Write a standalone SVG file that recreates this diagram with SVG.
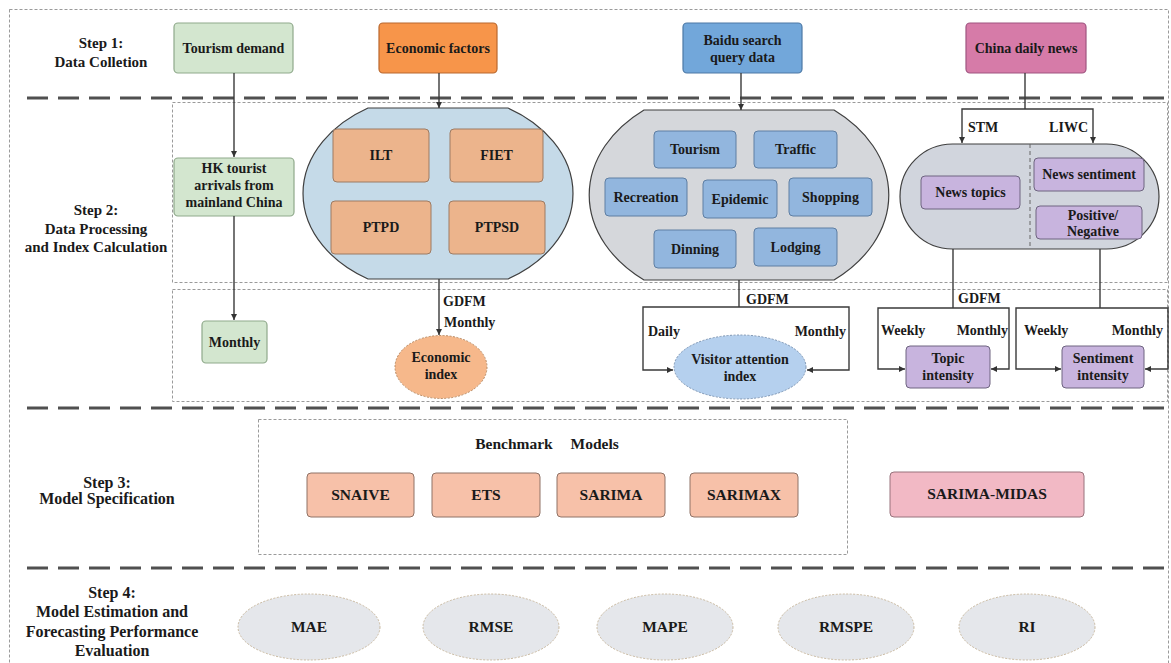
<svg xmlns="http://www.w3.org/2000/svg" width="1171" height="663" viewBox="0 0 1171 663">
<defs>
<marker id="ah" viewBox="0 0 10 10" refX="10" refY="5" markerWidth="6" markerHeight="6" markerUnits="userSpaceOnUse" orient="auto">
<path d="M0,0 L10,5 L0,10 z" fill="#333"/>
</marker>
<style>
text{font-family:'Liberation Serif','DejaVu Serif',serif;font-weight:bold;fill:#1a1a1a;text-anchor:middle}
.step{font-size:15px}
.step2{font-size:16px}
.lbl{font-size:14px}
.sm{font-size:14px}
.big{font-size:15.5px}
.cl{font-size:14px;text-anchor:start}
.cr{font-size:14px;text-anchor:end}
.thick{stroke:#505050;stroke-width:3;stroke-dasharray:21 10;fill:none}
.dot{stroke:#9a9a9a;stroke-width:1;stroke-dasharray:3 2;fill:none}
.conn path{fill:none;stroke:#3a3a3a;stroke-width:1.4}
.green{fill:#d3e6cf;stroke:#8fa98b;stroke-width:1.2}
.peach{fill:#ecb48c;stroke:#9d7b63;stroke-width:1}
.sblue{fill:#92b6de;stroke:#5e7ea3;stroke-width:1}
.lav{fill:#c8b4de;stroke:#6e6480;stroke-width:1}
.model{fill:#f7c1a9;stroke:#8f7266;stroke-width:1}
.metric{fill:#e5e7eb;stroke:#c9b9a0;stroke-width:1;stroke-dasharray:2 1.5}
</style>
</defs>
<rect width="1171" height="663" fill="#ffffff"/>

<!-- frame and section separators -->
<g id="frame">
<rect x="9.5" y="9.5" width="1159" height="670" class="dot"/>
<line x1="27" y1="98" x2="1168" y2="98" class="thick"/>
<line x1="27" y1="408" x2="1168" y2="408" class="thick"/>
<line x1="27" y1="568" x2="1168" y2="568" class="thick"/>
<rect x="172.5" y="102.5" width="995" height="180" class="dot"/>
<rect x="172.5" y="289.5" width="995" height="112" class="dot"/>
<rect x="258.5" y="419.5" width="589" height="135" class="dot" stroke="#777"/>
</g>

<!-- step labels -->
<g id="step-labels">
<text class="step" x="101" y="48">Step 1:</text>
<text class="step" x="101" y="67">Data Colletion</text>
<text class="step" x="96" y="215">Step 2:</text>
<text class="step" x="96" y="234">Data Processing</text>
<text class="step" x="96" y="252">and Index Calculation</text>
<text class="step2" x="107" y="488">Step 3:</text>
<text class="step2" x="107" y="504">Model Specification</text>
<text class="step2" x="112" y="598">Step 4:</text>
<text class="step2" x="112" y="617">Model Estimation and</text>
<text class="step2" x="112" y="637">Forecasting Performance</text>
<text class="step2" x="112" y="656">Evaluation</text>
</g>

<!-- step 1 nodes -->
<g id="tourism-demand">
<rect x="174" y="23" width="119" height="50" rx="4" class="green"/>
<text class="lbl" x="233.5" y="53">Tourism demand</text>
</g>
<g id="economic-factors">
<rect x="379" y="23" width="118" height="50" rx="4" fill="#f7954a" stroke="#b9682e" stroke-width="1.2"/>
<text class="lbl" x="438" y="53">Economic factors</text>
</g>
<g id="baidu">
<rect x="683" y="23" width="119" height="50" rx="4" fill="#72a7da" stroke="#4d79a6" stroke-width="1.2"/>
<text class="lbl" x="742.5" y="45">Baidu search</text>
<text class="lbl" x="742.5" y="62">query data</text>
</g>
<g id="china-daily-news">
<rect x="966" y="23" width="120" height="50" rx="4" fill="#d67ba8" stroke="#9f5580" stroke-width="1.2"/>
<text class="lbl" x="1026" y="53">China daily news</text>
</g>

<!-- step 2 nodes -->
<g id="hk-arrivals">
<rect x="174" y="158" width="120" height="58" rx="4" class="green"/>
<text class="lbl" x="234" y="173">HK tourist</text>
<text class="lbl" x="234" y="190">arrivals from</text>
<text class="lbl" x="234" y="207">mainland China</text>
</g>
<g id="monthly-demand">
<rect x="202" y="321" width="65" height="42" rx="4" class="green"/>
<text class="lbl" x="234.5" y="347">Monthly</text>
</g>

<g id="economic-group">
<path d="M368,108 H508 A135,100 0 0 1 508,279 H368 A135,100 0 0 1 368,108 Z" fill="#c5dae8" stroke="#3f3f3f" stroke-width="1.2"/>
<rect x="333" y="129" width="96" height="53" rx="4" class="peach"/>
<text class="sm" x="381" y="160">ILT</text>
<rect x="450" y="129" width="93" height="53" rx="4" class="peach"/>
<text class="sm" x="496.5" y="160">FIET</text>
<rect x="331" y="201" width="100" height="53" rx="4" class="peach"/>
<text class="sm" x="381" y="232">PTPD</text>
<rect x="449" y="201" width="96" height="53" rx="4" class="peach"/>
<text class="sm" x="497" y="232">PTPSD</text>
</g>

<g id="economic-index">
<ellipse cx="441" cy="367" rx="46" ry="31.5" fill="#f6b88b" stroke="#b98a62" stroke-width="1" stroke-dasharray="2 1.5"/>
<text class="sm" x="441" y="362">Economic</text>
<text class="sm" x="441" y="379">index</text>
</g>

<g id="search-group">
<path d="M644,110 H834 A150,110 0 0 1 834,280 H644 A150,110 0 0 1 644,110 Z" fill="#d5d7db" stroke="#3f3f3f" stroke-width="1.2"/>
<rect x="654" y="131" width="82" height="37" rx="4" class="sblue"/>
<text class="sm" x="695" y="154">Tourism</text>
<rect x="754" y="131" width="83" height="37" rx="4" class="sblue"/>
<text class="sm" x="795.5" y="154">Traffic</text>
<rect x="605" y="178" width="82" height="38" rx="4" class="sblue"/>
<text class="sm" x="646" y="202">Recreation</text>
<rect x="703" y="180" width="74" height="38" rx="4" class="sblue"/>
<text class="sm" x="740" y="204">Epidemic</text>
<rect x="789" y="178" width="83" height="38" rx="4" class="sblue"/>
<text class="sm" x="830.5" y="202">Shopping</text>
<rect x="654" y="230" width="82" height="38" rx="4" class="sblue"/>
<text class="sm" x="695" y="254">Dinning</text>
<rect x="754" y="228" width="83" height="38" rx="4" class="sblue"/>
<text class="sm" x="795.5" y="252">Lodging</text>
</g>

<g id="visitor-attention-index">
<ellipse cx="740" cy="367" rx="66" ry="32" fill="#b5d0ee" stroke="#7f96b3" stroke-width="1" stroke-dasharray="2 1.5"/>
<text class="sm" x="740" y="364">Visitor attention</text>
<text class="sm" x="740" y="381">index</text>
</g>

<g id="news-group">
<rect x="900" y="144" width="259" height="105" rx="52.5" fill="#d1d5dd" stroke="#3f3f3f" stroke-width="1.2"/>
<line x1="1030" y1="144" x2="1030" y2="249" stroke="#666" stroke-width="1" stroke-dasharray="4 3"/>
<rect x="921" y="176" width="99" height="33" rx="4" class="lav"/>
<text class="sm" x="970.5" y="197">News topics</text>
<rect x="1034" y="158" width="110" height="33" rx="4" class="lav"/>
<text class="sm" x="1089" y="179">News sentiment</text>
<rect x="1036" y="206" width="106" height="33" rx="4" class="lav"/>
<text class="sm" x="1093" y="220">Positive/</text>
<text class="sm" x="1093" y="236">Negative</text>
</g>

<g id="topic-intensity">
<rect x="906" y="346" width="84" height="42" rx="4" class="lav"/>
<text class="sm" x="948" y="363">Topic</text>
<text class="sm" x="948" y="380">intensity</text>
</g>
<g id="sentiment-intensity">
<rect x="1062" y="346" width="82" height="42" rx="4" class="lav"/>
<text class="sm" x="1103" y="363">Sentiment</text>
<text class="sm" x="1103" y="380">intensity</text>
</g>

<!-- step 3 nodes -->
<g id="benchmark-title">
<text class="big" x="547" y="449" word-spacing="14">Benchmark Models</text>
</g>
<g id="snaive">
<rect x="307" y="473" width="107" height="44" rx="4" class="model"/>
<text class="big" x="360.5" y="500">SNAIVE</text>
</g>
<g id="ets">
<rect x="432" y="473" width="108" height="44" rx="4" class="model"/>
<text class="big" x="486" y="500">ETS</text>
</g>
<g id="sarima">
<rect x="557" y="473" width="108" height="44" rx="4" class="model"/>
<text class="big" x="611" y="500">SARIMA</text>
</g>
<g id="sarimax">
<rect x="690" y="473" width="108" height="44" rx="4" class="model"/>
<text class="big" x="744" y="500">SARIMAX</text>
</g>
<g id="sarima-midas">
<rect x="890" y="472" width="194" height="45" rx="4" fill="#f2b9c5" stroke="#98737c" stroke-width="1"/>
<text class="big" x="987" y="499">SARIMA-MIDAS</text>
</g>

<!-- step 4 nodes -->
<g id="mae"><ellipse cx="309" cy="627" rx="71" ry="33" class="metric"/><text class="big" x="309" y="632">MAE</text></g>
<g id="rmse"><ellipse cx="491" cy="627" rx="68" ry="33" class="metric"/><text class="big" x="491" y="632">RMSE</text></g>
<g id="mape"><ellipse cx="665" cy="627" rx="68" ry="33" class="metric"/><text class="big" x="665" y="632">MAPE</text></g>
<g id="rmspe"><ellipse cx="846" cy="627" rx="68" ry="33" class="metric"/><text class="big" x="846" y="632">RMSPE</text></g>
<g id="ri"><ellipse cx="1027" cy="627" rx="68" ry="33" class="metric"/><text class="big" x="1027" y="632">RI</text></g>

<!-- connectors -->
<g id="connectors" class="conn">
<path d="M234,73 V157" marker-end="url(#ah)"/>
<path d="M234,216 V320" marker-end="url(#ah)"/>
<path d="M439,73 V108" marker-end="url(#ah)"/>
<path d="M439,279 V335" marker-end="url(#ah)"/>
<path d="M741,73 V110" marker-end="url(#ah)"/>
<path d="M739,280 V307"/>
<path d="M739,307 H643 V370 H673" marker-end="url(#ah)"/>
<path d="M739,307 H849 V370 H807" marker-end="url(#ah)"/>
<path d="M1025,73 V109"/>
<path d="M1025,109 H962 V143" marker-end="url(#ah)"/>
<path d="M1025,109 H1093 V143" marker-end="url(#ah)"/>
<path d="M953,249 V308"/>
<path d="M953,308 H878 V369 H905" marker-end="url(#ah)"/>
<path d="M953,308 H1009 V369 H991" marker-end="url(#ah)"/>
<path d="M1100,249 V308"/>
<path d="M1100,308 H1016 V369 H1061" marker-end="url(#ah)"/>
<path d="M1100,308 H1168 V369 H1145" marker-end="url(#ah)"/>
</g>

<!-- connector labels -->
<g id="connector-labels">
<text class="cl" x="443" y="306">GDFM</text>
<text class="cl" x="444" y="327">Monthly</text>
<text class="cl" x="746" y="304">GDFM</text>
<text class="cl" x="648" y="336">Daily</text>
<text class="cr" x="846" y="336">Monthly</text>
<text class="cl" x="968" y="132">STM</text>
<text class="cr" x="1088" y="132">LIWC</text>
<text class="cl" x="958" y="303">GDFM</text>
<text class="cl" x="881" y="335">Weekly</text>
<text class="cr" x="1008" y="335">Monthly</text>
<text class="cl" x="1024" y="335">Weekly</text>
<text class="cr" x="1163" y="335">Monthly</text>
</g>
</svg>
